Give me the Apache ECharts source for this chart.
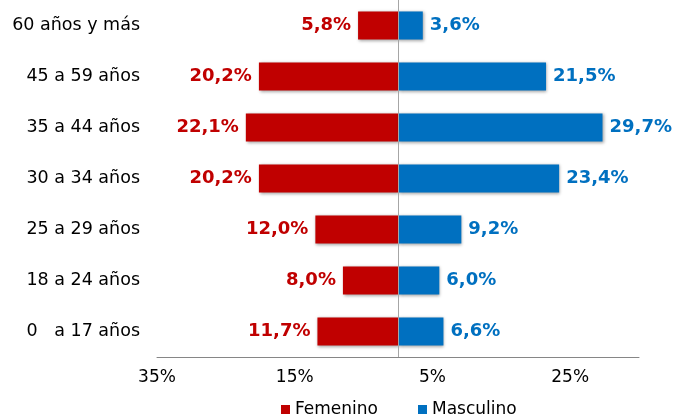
<!DOCTYPE html>
<html>
<head>
<meta charset="utf-8">
<script src="https://cdn.jsdelivr.net/npm/echarts@6/dist/echarts.min.js"></script>
<style>
html,body{margin:0;padding:0;background:#fff;}
#chart{width:675px;height:414px;}
</style>
</head>
<body>
<div id="chart"></div>
<script>
// Categories, bottom to top
const categories = ["0   a 17 años", "18 a 24 años", "25 a 29 años", "30 a 34 años", "35 a 44 años", "45 a 59 años", "60 años y más"];
// Percentages
const femenino = [11.7, 8.0, 12.0, 20.2, 22.1, 20.2, 5.8];
const masculino = [6.6, 6.0, 9.2, 23.4, 29.7, 21.5, 3.6];
const seriesNames = ["Femenino", "Masculino"];
// Axis ticks: 35%, 15%, 5%, 25% (counted from min)
const axisMin = -35, axisMax = 35, axisInterval = 20;

const RED = '#C00000', BLUE = '#0070C0';
const FONT = 'DejaVu Sans';
const fmt = v => Math.abs(v).toFixed(1).replace('.', ',') + '%';

const chart = echarts.init(document.getElementById('chart'), null, {renderer: 'canvas'});
const shadow = {shadowColor: 'rgba(0,0,0,0.35)', shadowBlur: 3, shadowOffsetX: 1, shadowOffsetY: 1};

chart.setOption({
  animation: false,
  textStyle: {fontFamily: FONT},
  grid: {left: 157, right: 36, top: 0, bottom: 57, containLabel: false},
  legend: {
    data: seriesNames,
    left: 276, top: 396,
    icon: 'rect', itemWidth: 9, itemHeight: 9, itemGap: 40,
    textStyle: {fontFamily: FONT, fontSize: 17, color: '#000'}
  },
  xAxis: {
    type: 'value', min: axisMin, max: axisMax, interval: axisInterval,
    splitLine: {show: false},
    axisTick: {show: false},
    axisLine: {show: true, lineStyle: {color: '#868686', width: 1}},
    axisLabel: {fontFamily: FONT, fontSize: 17, color: '#000', margin: 12, showMaxLabel: false,
      formatter: v => Math.abs(v) + '%'}
  },
  yAxis: {
    type: 'category', data: categories,
    axisLine: {show: false}, axisTick: {show: false},
    axisLabel: {fontFamily: FONT, fontSize: 17.5, color: '#000', margin: 17}
  },
  series: [
    {
      name: seriesNames[0], type: 'bar', stack: 'total', barWidth: '55%',
      data: femenino.map(v => -v),
      itemStyle: Object.assign({color: RED}, shadow),
      label: {show: true, position: 'left', distance: 7, fontFamily: FONT, fontSize: 18, fontWeight: 'bold', color: RED,
        formatter: p => fmt(p.value)},
      markLine: {
        silent: true, symbol: 'none', label: {show: false},
        lineStyle: {color: '#A6A6A6', width: 1, type: 'solid'},
        data: [{xAxis: 0}]
      }
    },
    {
      name: seriesNames[1], type: 'bar', stack: 'total', barWidth: '55%',
      data: masculino,
      itemStyle: Object.assign({color: BLUE}, shadow),
      label: {show: true, position: 'right', distance: 7, fontFamily: FONT, fontSize: 18, fontWeight: 'bold', color: BLUE,
        formatter: p => fmt(p.value)}
    }
  ]
});
</script>
</body>
</html>
